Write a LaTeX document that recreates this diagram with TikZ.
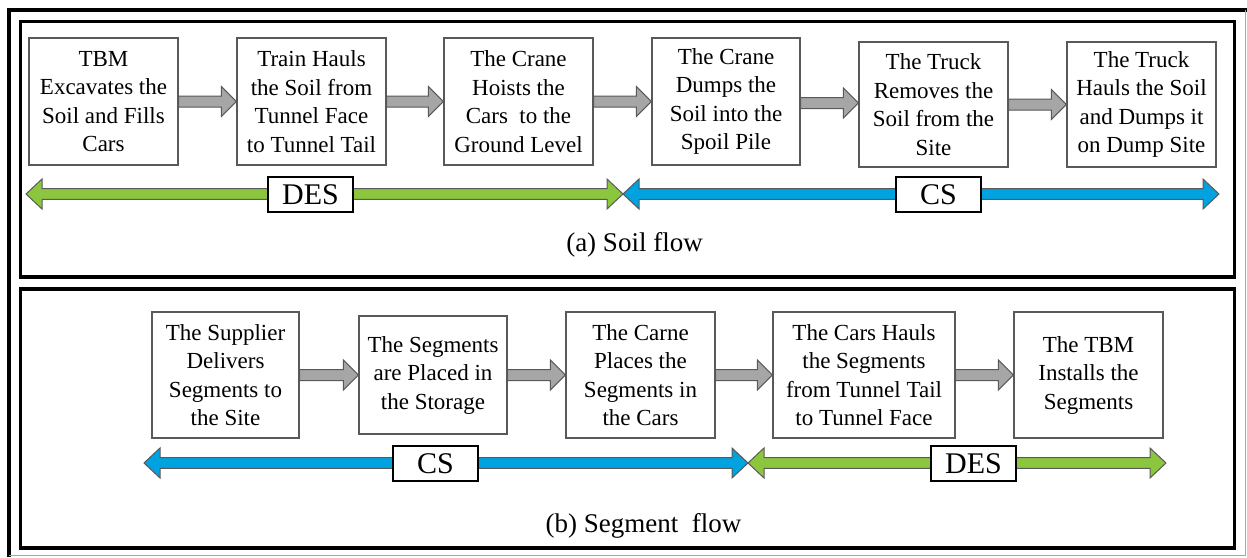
\documentclass[tikz,border=0pt]{standalone}
\usepackage{fontspec}
\setmainfont{Liberation Serif}
\newfontfamily\serifrm{Liberation Serif}
\usetikzlibrary{calc}
\definecolor{arrgray}{HTML}{A6A6A6}
\definecolor{edgegray}{HTML}{595959}
\definecolor{desgreen}{HTML}{8CC63F}
\definecolor{csblue}{HTML}{00A2DF}
\newcommand{\flowarr}[2]{%
  \filldraw[flowarrow] let \p1=(#1.east), \p2=(#2.west), \n1={(\y1+\y2)/2} in
    ({\x1},{\n1+5.5pt}) -- ({\x2-15pt},{\n1+5.5pt}) -- ({\x2-15pt},{\n1+15pt}) -- ({\x2},{\n1})
    -- ({\x2-15pt},{\n1-15pt}) -- ({\x2-15pt},{\n1-5.5pt}) -- ({\x1},{\n1-5.5pt}) -- cycle;}
\newcommand{\dblarr}[3]{%
  \filldraw[spanarrow,fill=#3] let \p1=(#1), \p2=(#2) in
    ({\x1},{\y1}) -- ({\x1+16pt},{\y1+15pt}) -- ({\x1+16pt},{\y1+5.3pt}) -- ({\x2-16pt},{\y1+5.3pt})
    -- ({\x2-16pt},{\y1+15pt}) -- ({\x2},{\y1}) -- ({\x2-16pt},{\y1-15pt}) -- ({\x2-16pt},{\y1-5.3pt})
    -- ({\x1+16pt},{\y1-5.3pt}) -- ({\x1+16pt},{\y1-15pt}) -- cycle;}
\begin{document}
\begin{tikzpicture}[x=1pt,y=-1pt,
  proc/.style={draw=edgegray, line width=1.3pt, fill=white, align=center, inner sep=0pt,
    minimum width=149pt, minimum height=127pt, font=\serifrm\fontsize{23}{28.5}\selectfont},
  lab/.style={draw=black, line width=1.4pt, fill=white, minimum width=85pt, minimum height=35pt,
    inner sep=0pt, font=\serifrm\fontsize{30}{30}\selectfont},
  captxt/.style={font=\serifrm\fontsize{27}{27}\selectfont, anchor=base, inner sep=0pt},
  panel/.style={draw=black, line width=3.4pt},
  flowarrow/.style={draw=edgegray, line width=1pt, fill=arrgray, line join=miter},
  spanarrow/.style={draw=edgegray, line width=1pt, line join=miter}]
\useasboundingbox (0,0) rectangle (1247,557);
\fill[white] (0,0) rectangle (1247,557);
% outer frame
\draw[black, line width=3.4pt] (9,557) -- (9,10) -- (1247,10);
\draw[gray!70, line width=1pt] (1245.5,10) -- (1245.5,555.5) -- (9,555.5);
% panels
\draw[panel] (20.7,21.7) rectangle (1234.7,277);
\draw[panel] (20.7,289) rectangle (1234.7,548);

% (a) Soil flow
\node[proc] (a1) at (103.5,101.5) {TBM\\Excavates the\\Soil and Fills\\Cars};
\node[proc] (a2) at (311.5,101.5) {Train Hauls\\the Soil from\\Tunnel Face\\to Tunnel Tail};
\node[proc] (a3) at (518.5,101.5) {The Crane\\Hoists the\\Cars~ to the\\Ground Level};
\node[proc, minimum width=148pt] (a4) at (726,101.5) {The Crane\\Dumps the\\Soil into the\\Spoil Pile};
\node[proc, minimum height=125pt] (a5) at (933.5,104.5) {The Truck\\Removes the\\Soil from the\\Site};
\node[proc, minimum height=125pt] (a6) at (1141.5,104.5) {The Truck\\Hauls the Soil\\and Dumps it\\on Dump Site};
\flowarr{a1}{a2}
\flowarr{a2}{a3}
\flowarr{a3}{a4}
\flowarr{a4}{a5}
\flowarr{a5}{a6}

\coordinate (aL) at (26,194);
\coordinate (aM) at (623,194);
\coordinate (aR) at (1219,194);
\dblarr{aL}{aM}{desgreen}
\dblarr{aM}{aR}{csblue}
\node[lab] (adesl) at (310.5,194.5) {DES};
\node[lab] (acsl) at (938.5,194.5) {CS};
\node[captxt] (acap) at (634.5,251) {(a) Soil flow};

% (b) Segment flow
\node[proc, minimum width=147pt, minimum height=126pt] (b1) at (225.5,375) {The Supplier\\Delivers\\Segments to\\the Site};
\node[proc, minimum width=148pt, minimum height=118pt] (b2) at (433,375) {The Segments\\are Placed in\\the Storage};
\node[proc, minimum height=126pt] (b3) at (640.5,375) {The Carne\\Places the\\Segments in\\the Cars};
\node[proc, minimum width=182pt, minimum height=126pt] (b4) at (864,375) {The Cars Hauls\\the Segments\\from Tunnel Tail\\to Tunnel Face};
\node[proc, minimum height=126pt] (b5) at (1088.5,375) {The TBM\\Installs the\\Segments};
\flowarr{b1}{b2}
\flowarr{b2}{b3}
\flowarr{b3}{b4}
\flowarr{b4}{b5}

\coordinate (bL) at (144,463);
\coordinate (bM) at (748,463);
\coordinate (bR) at (1166,463);
\dblarr{bL}{bM}{csblue}
\dblarr{bM}{bR}{desgreen}
\node[lab] (bcsl) at (435.5,463.5) {CS};
\node[lab] (bdesl) at (973.5,463.5) {DES};
\node[captxt] (bcap) at (643.5,532) {(b) Segment~ flow};
\end{tikzpicture}
\end{document}
